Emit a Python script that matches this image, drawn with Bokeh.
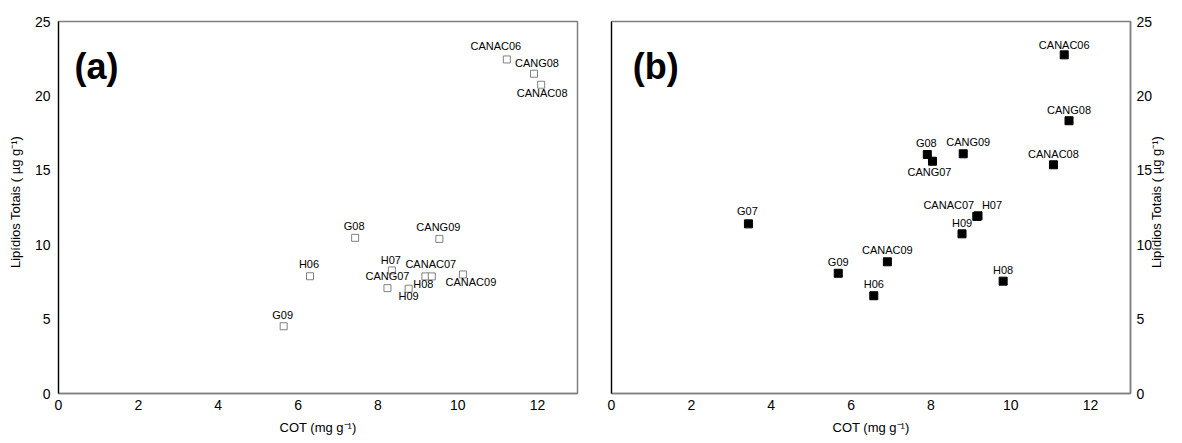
import math
from bokeh.plotting import figure
from bokeh.layouts import row
from bokeh.models import ColumnDataSource, FixedTicker, LinearAxis, Label
from bokeh.core.properties import value
from bokeh.embed import file_html
from bokeh.resources import INLINE

# ---------------- data ----------------
sites_a = ["G09", "H06", "G08", "CANG07", "H07", "H09", "H08", "CANAC07",
           "CANG09", "CANAC09", "CANAC06", "CANG08", "CANAC08"]
cot_a = [5.64, 6.30, 7.43, 8.24, 8.35, 8.77, 9.19, 9.35, 9.54, 10.13, 11.23, 11.91, 12.09]
lip_a = [4.52, 7.88, 10.46, 7.08, 8.27, 7.04, 7.87, 7.87, 10.39, 8.00, 22.45, 21.49, 20.75]

sites_b = ["G07", "G09", "H06", "CANAC09", "G08", "CANG07", "H09", "CANG09",
           "CANAC07", "H07", "H08", "CANAC08", "CANAC06", "CANG08"]
cot_b = [3.43, 5.68, 6.57, 6.91, 7.91, 8.04, 8.78, 8.81, 9.15, 9.18, 9.81, 11.07, 11.34, 11.46]
lip_b = [11.40, 8.08, 6.57, 8.85, 16.06, 15.61, 10.73, 16.11, 11.90, 11.94, 7.55, 15.37, 22.76, 18.33]

x_ticks = [0, 2, 4, 6, 8, 10, 12]
y_ticks = [0, 5, 10, 15, 20, 25]
x_label = "COT (mg g\u207b\u00b9)"
y_label = "Lip\u00eddios Totais ( \u00b5g g\u207b\u00b9)"

# label placement (screen pixel offsets relative to each point)
dx_a = [-1, -1, -1, 0, -1, 0, -2, -1, -1, 8, -11, 3, 1]
dy_a = [-11, -12, -12, -12, -10, 7.5, 7.5, -12, -12, 7.5, -13, -11, 8]
dx_b = [-1, 0, 0, 0, -1, -3, 0, 5, -28, 14, 0, 0, 0, 0]
dy_b = [-12.5, -11.5, -11.5, -11.5, -11.5, 10.5, -11, -12, -11, -10.5, -11.5, -11, -10, -10.5]

FONT = "Liberation Sans"
GRAY = "#808080"


def style(p):
    p.grid.visible = False
    p.outline_line_color = GRAY
    p.outline_line_width = 1.5
    for ax in p.axis:
        ax.major_tick_in = 0
        ax.major_tick_out = 0
        ax.minor_tick_in = 0
        ax.minor_tick_out = 0
        ax.major_label_text_font = FONT
        ax.major_label_text_font_size = "14px"
        ax.major_label_text_color = "black"
        ax.axis_label_text_font = FONT
        ax.axis_label_text_font_size = "13px"
        ax.axis_label_text_font_style = "normal"
        ax.axis_label_text_color = "black"
    p.xaxis.ticker = FixedTicker(ticks=x_ticks)
    p.xaxis.axis_label = x_label
    p.xaxis.axis_line_color = GRAY
    p.xaxis.axis_line_width = 1.5
    p.xaxis.major_label_standoff = 6
    p.xaxis.axis_label_standoff = 7


def label_strip(width, left_pad, margin):
    """narrow strip whose left-axis label carries the y-axis title"""
    s = figure(width=width, height=443, x_range=(0, 1), y_range=(0, 25),
               x_axis_location=None, min_border_left=left_pad, min_border_right=0,
               min_border_top=0, min_border_bottom=61, margin=margin,
               output_backend="svg", toolbar_location=None)
    s.grid.visible = False
    s.outline_line_color = None
    s.border_fill_alpha = 0
    s.background_fill_alpha = 0
    ax = s.yaxis[0]
    ax.ticker = FixedTicker(ticks=[])
    ax.axis_line_color = None
    ax.major_tick_in = 0
    ax.major_tick_out = 0
    ax.minor_tick_in = 0
    ax.minor_tick_out = 0
    ax.major_label_standoff = 0
    ax.axis_label_standoff = 0
    ax.axis_label = y_label
    ax.axis_label_text_font = FONT
    ax.axis_label_text_font_size = "13px"
    ax.axis_label_text_font_style = "normal"
    ax.axis_label_text_color = "black"
    return s


# ---------------- left title strip ----------------
p0 = label_strip(30, 0, (0, -4, 0, 4))

# ---------------- panel (a) ----------------
p1 = figure(width=564, height=443, frame_width=519, frame_height=372,
            x_range=(0, 13), y_range=(0, 25),
            min_border_left=28, min_border_right=17, min_border_top=21, min_border_bottom=50,
            output_backend="svg", toolbar_location=None)
style(p1)
p1.yaxis.ticker = FixedTicker(ticks=y_ticks)
p1.yaxis.axis_line_color = "black"
p1.yaxis.axis_line_width = 1.2
p1.yaxis.major_label_standoff = 8

src_a = ColumnDataSource(dict(x=cot_a, y=lip_a, t=sites_a, dx=dx_a, dy=dy_a))
p1.scatter("x", "y", source=src_a, marker="square", size=7,
           fill_color="white", line_color=GRAY, line_width=1)
p1.text("x", "y", text="t", source=src_a, x_offset="dx", y_offset="dy",
        text_font=value(FONT), text_font_size="11px", text_color="black",
        text_align="center", text_baseline="middle")
p1.add_layout(Label(x=0.4, y=22.0, text="(a)", text_font=FONT, text_font_size="36px",
                    text_font_style="bold", text_color="black", text_baseline="middle"))

# ---------------- panel (b) ----------------
p2 = figure(width=558, height=443, frame_width=519, frame_height=372,
            x_range=(0, 13), y_range=(0, 25), y_axis_location="right",
            min_border_left=17, min_border_right=22, min_border_top=21, min_border_bottom=50,
            output_backend="svg", toolbar_location=None)
left_line = LinearAxis(ticker=FixedTicker(ticks=[]), axis_line_color="black",
                       axis_line_width=1.2, major_label_text_font_size="0px")
p2.add_layout(left_line, "left")
style(p2)
for ax in p2.right:
    ax.ticker = FixedTicker(ticks=y_ticks)
    ax.axis_line_color = GRAY
    ax.axis_line_width = 1.5
    ax.major_label_standoff = 6
for ax in p2.left:
    ax.ticker = FixedTicker(ticks=[])
    ax.axis_line_color = "black"
    ax.major_label_text_font_size = "0px"
    ax.major_label_standoff = 0

src_b = ColumnDataSource(dict(x=cot_b, y=lip_b, t=sites_b, dx=dx_b, dy=dy_b))
p2.scatter("x", "y", source=src_b, marker="square", size=8,
           fill_color="black", line_color="black", line_width=1)
p2.text("x", "y", text="t", source=src_b, x_offset="dx", y_offset="dy",
        text_font=value(FONT), text_font_size="11px", text_color="black",
        text_align="center", text_baseline="middle")
p2.add_layout(Label(x=0.53, y=22.0, text="(b)", text_font=FONT, text_font_size="36px",
                    text_font_style="bold", text_color="black", text_baseline="middle"))

# ---------------- right title strip ----------------
p3 = label_strip(30, 0, (0, 0, 0, -10))

layout = row(p0, p1, p2, p3)
open("out.html", "w").write(file_html(layout, INLINE))
